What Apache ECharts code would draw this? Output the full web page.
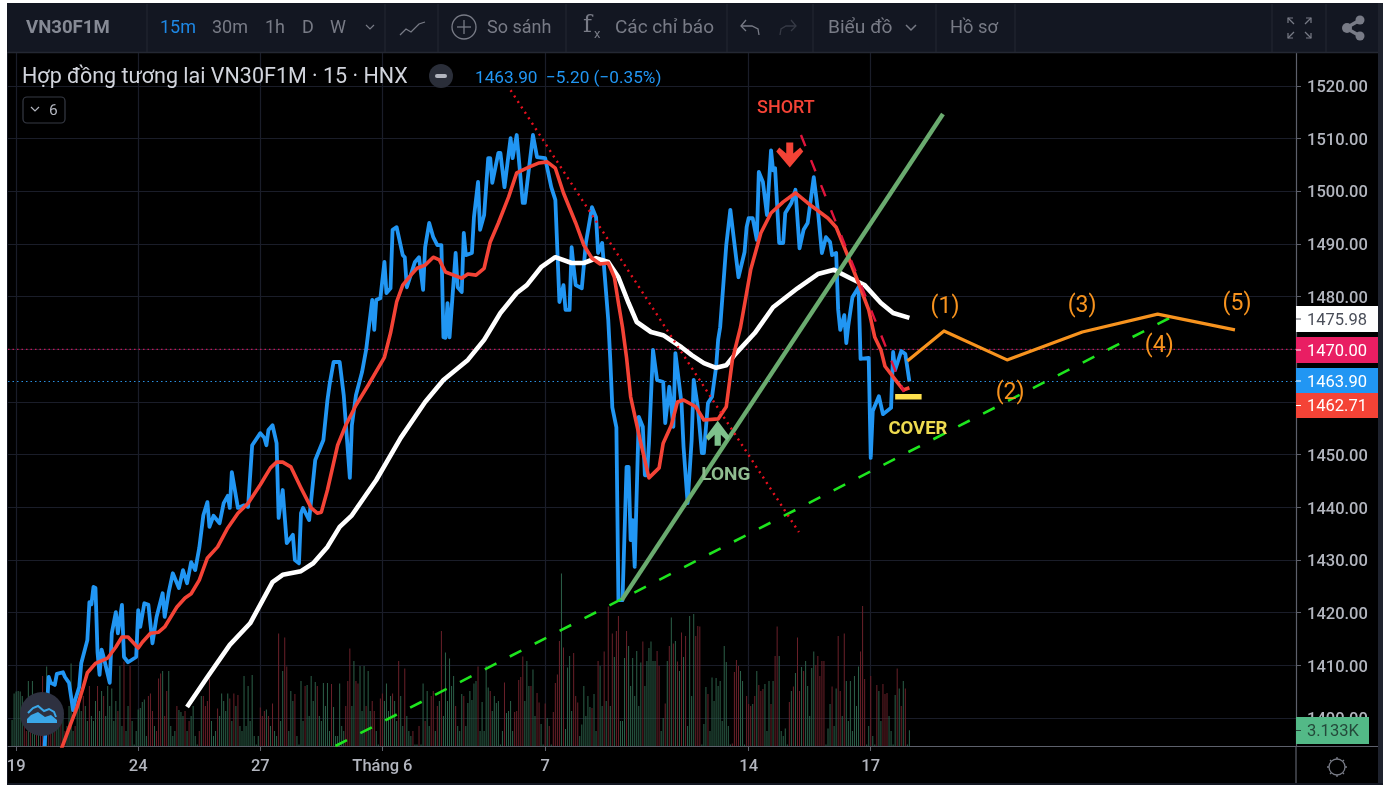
<!DOCTYPE html>
<html><head><meta charset="utf-8">
<style>html,body{margin:0;padding:0;background:#fff}#c{width:1391px;height:788px}</style>
<script src="https://cdn.jsdelivr.net/npm/echarts@6/dist/echarts.min.js"></script>
</head><body><div id="c"></div>
<script>
// Bars are numbered from the "19" session; one session = 20 bars.
const tickBars = [0, 60, 120, 180, 260, 360, 420];
const tickLabels = ['19', '24', '27', 'Tháng 6', '7', '14', '17'];
const priceTicks = [1400,1410,1420,1430,1440,1450,1460,1470,1480,1490,1500,1510,1520];

const closeBars = [14,16,17,19,20,23,24,26,28,29,31,32,35,36,37,38,39,40,41,42,43,46,47,49,50,52,53,55,59,60,61,63,65,67,69,72,73,75,77,80,82,84,86,88,90,92,94,95,97,100,102,104,105,106,109,112,114,116,120,122,123,124,126,128,129,131,132,133,136,137,139,140,141,144,147,151,153,154,156,159,161,164,165,167,170,172,175,176,177,179,181,182,184,185,187,190,191,192,196,198,200,201,203,205,207,209,210,211,212,213,216,217,219,220,221,224,225,227,228,230,232,233,234,237,238,240,243,244,246,249,250,254,256,260,263,265,267,269,270,272,273,274,275,278,280,283,285,286,288,291,292,293,295,296,298,300,301,302,303,304,306,308,309,310,311,313,315,318,319,321,323,324,327,328,330,332,333,335,337,338,340,342,344,345,346,349,351,355,358,359,360,362,364,365,367,369,371,372,373,375,377,378,381,383,385,387,389,392,394,396,398,400,401,403,404,405,407,408,409,411,414,415,419,420,421,424,426,430,431,432,435,437,439];
const closeValues = [1394.7,1407.8,1406.7,1406.3,1408.4,1408.7,1407.8,1406.7,1401.5,1403.4,1405.9,1410.4,1414.8,1422,1421.6,1424.9,1424.7,1412.5,1408.2,1413,1411.6,1406.7,1416.1,1420.1,1416.1,1421.5,1411.6,1410.6,1411.6,1420.5,1417.3,1421.8,1421.5,1414.2,1419.2,1423.7,1419.2,1423.9,1427.5,1424.7,1428.1,1425.6,1429.6,1428.1,1432.3,1438.5,1441,1436.3,1438.4,1437,1440.8,1442.2,1439.9,1446.7,1439.9,1440.4,1440.1,1451.8,1454.1,1453.2,1451.8,1454.7,1455.6,1452.2,1438,1443.3,1438.2,1433.2,1434.8,1430,1429.4,1438.9,1439.9,1437.6,1449,1452.8,1460.4,1463.2,1467.6,1467.6,1461.3,1445.6,1455.6,1461.3,1465.7,1469.9,1479.4,1473.7,1479.4,1479.7,1486.6,1480.7,1481.6,1492.7,1493.2,1487.9,1487.5,1481.8,1486.6,1487.5,1481.3,1489.4,1494,1491.3,1489.8,1489.8,1472.3,1472.2,1478.8,1472.3,1488.3,1481.8,1480.9,1492.1,1487.9,1488.3,1495.1,1501.8,1492.7,1495.5,1506.3,1506.3,1501.6,1507.3,1507.3,1500.8,1510.1,1506.3,1510.7,1497.8,1497.8,1510.7,1506.5,1506.3,1500.8,1498.4,1479,1482.2,1477.5,1477.5,1489.4,1485.6,1482.2,1481.6,1490.2,1497,1495.1,1488.3,1490.2,1475.6,1468,1459,1455.2,1422.4,1422.4,1447.7,1447.7,1433.8,1437.6,1428.7,1457.2,1455.3,1446.1,1446.1,1452.2,1469.9,1464.2,1463.8,1456,1462.9,1455.3,1469.3,1459.8,1451.5,1440.8,1452.8,1464.2,1459.1,1450.3,1450.3,1459.8,1461,1466.6,1471.8,1474.2,1489.8,1496.5,1483.7,1488.5,1493.2,1494.9,1494.9,1490.8,1503.7,1501.8,1495.5,1507.8,1504,1504.4,1490.2,1490.2,1495.9,1497.8,1500.3,1489.2,1492.7,1494,1502.7,1496.5,1488.3,1491.3,1490.4,1487.9,1488.3,1477.5,1473.7,1476.5,1471.2,1474.6,1479.9,1481.8,1468.2,1468.4,1449.4,1458.3,1461.1,1457.7,1458.9,1469.5,1466.1,1469.7,1469.1,1463.9];

const fastBars = [22,27,30,33,35,39,45,49,52,55,60,62,66,70,73,79,83,86,90,94,99,104,109,114,120,125,128,131,135,140,145,148,150,153,158,162,167,173,181,184,187,190,194,197,201,205,208,211,215,219,222,226,230,233,237,242,246,252,257,261,265,269,275,279,283,287,291,294,296,298,300,302,307,311,316,318,322,325,328,334,338,345,349,352,356,361,366,371,377,383,389,399,403,409,414,419,422,425,427,433,436,439];
const fastValues = [1393.9,1399.1,1402.1,1405.9,1408.6,1410.4,1411.4,1413.5,1415.4,1415.4,1413.3,1414.4,1416.1,1416.3,1417.3,1421.1,1422.8,1423.6,1426.2,1430.4,1432.5,1436.1,1438.9,1440.8,1444.3,1447.5,1448.6,1448.6,1447.7,1443.7,1439.9,1438.9,1439.1,1443.3,1451.8,1455.6,1459.4,1463.2,1468.5,1473.1,1479,1482.2,1484.1,1485.4,1486,1487.5,1487,1484.7,1484.1,1483.5,1484.3,1484.1,1485.4,1490.4,1494,1498.9,1503.5,1504.6,1505.4,1505.6,1504.4,1499.7,1494,1489.8,1487.3,1486.2,1486.4,1483.7,1478.8,1474.2,1468.4,1461,1452.2,1445.6,1447.5,1452.2,1455.6,1460,1460.4,1459.1,1456.6,1456.8,1459.1,1468,1474.2,1485.1,1492.1,1495.9,1498,1499.7,1497.8,1494.9,1493.2,1487.5,1482.6,1477.5,1472.3,1469.9,1466.8,1463.8,1462.3,1462.71];

const slowBars = [84,94,105,115,126,131,140,146,153,159,165,177,189,201,210,222,230,238,246,251,258,265,273,279,285,291,296,301,305,312,318,327,332,338,344,349,353,363,372,384,394,402,410,417,425,431,439];
const slowValues = [1402.1,1407.8,1413.9,1418,1425.8,1427.2,1427.9,1429.4,1432.5,1436.3,1438.5,1445.2,1453.2,1460,1464.2,1468,1471.8,1476.9,1480.7,1482.2,1485.6,1487.5,1486.4,1486.4,1487.3,1486.6,1483.7,1478.8,1475.2,1473.3,1472.7,1470.4,1468.9,1467.4,1466.5,1467,1468.9,1473.1,1478,1481.6,1484.3,1485.1,1483.5,1482.2,1478.8,1476.9,1475.98];

// Volume in thousands, one per bar from bar -2; negative = down bar (red).
const volumes = [
5.2,10.5,10.9,11,10.9,10,-8.5,-3,13,-4,13,3,-5,4.5,-8,-14,5,15.9,-6,-8,
7,-4,9,5,-8,6,-3,4,8,16.5,3,-4,9,13,7,-10,8,5,-12,6,
5,9,-12,7,11,-10,6,12,8,11.5,5,9,-7,16,4,-16.9,3,8,-16,5,
0.3,3,7.3,7.6,8.8,9.3,2,-10,-10.5,-7,4,-3,-13.5,-14.5,15,-6,-11,15,4,2,
3,-8,7.2,6.8,6,-7,3,-5,6,8,2,0.3,-3,10,-10,-8,-9,-13.5,5,2,
3,-7.5,6,10.5,9,7,10.5,-9.5,5,-10.5,8,-10.2,4,3,14,4,12,5,14.2,2,
0.3,2,-7.7,-6,-7,7.3,-6,4,-8.5,3,2,-22.5,5,15,-21.7,-15.9,3,11,9,-10.4,
2,0.3,13,5,-12,12.2,6,14,9,12.8,-12,6,5,12.6,8,12.6,3,-12.4,7.8,2,
2,12.5,4,3,-8,-13,-19.5,8,17,-13,-12.5,16,7,16,-8,15,7,-9,-7,3,
0.3,-9.5,-10.5,9,12.5,7,10,-10.5,9,5,-17,10,4,-15.5,6,3,2,-3,0.3,0.3,
-4,0.3,12.5,-5,11,4,-10,-11,3,-8,9,-23,6,18.7,9,17.5,12,14,-8,4,
3,10.4,-10,4,8.6,11,9.2,12.5,13,-15.9,3,8.8,3,16,11.7,-11,7,10,8.6,9,
0.3,3,-12.7,6.6,7,9,3,-6.8,-7,-13.2,-13.8,-17.9,9,17,12,-12,15.3,6,-10.6,-8.7,
4.4,0.3,-8.5,5.6,-4,0.3,-6.8,-12.6,-14.3,-21,34.5,-19.7,3.4,15.7,18,7,-18.6,-10,-8.7,2,
4.3,12,6,10,7.8,-7.6,10.4,3,-17,16,8,-18.9,9,-27.9,8,-22.5,17.8,-23,-26,5,
5,17.6,-23,20,12,17.6,10,19,8,16.7,-20.9,12,17,19.6,20.9,17,17,-19,-16,3,
5.6,-8.5,17,-20,25.7,-20.5,21,-16.9,15,-22.7,17.8,-22,4,26,10,26.4,-22,-24,-23.9,0.3,
4.4,11.8,-10.4,3,13.7,9,13.6,12,13,5,20,16.8,4,0.3,-0.5,-14.8,-17.2,-16,15,13,
0.3,-10,-8.4,-8,8.4,-10,15,-12.2,-11,-11.4,12.4,3,13,-8.4,13,-18,-23.9,18,3,2,
3.5,0.3,-8.8,11,-11.9,14.6,-21.7,-11,15.8,-15,17,12,6,15.6,18.9,-16.2,-18,-14,-17,-17,
0.3,3.5,8.4,-11.9,4,11.5,-22,-11,6,-22.5,13,5,13,3,14,8,15.9,-18.9,-28,-13.4,
0.3,4,-14,2,0.3,-12.2,11,5,-12.4,-10.4,-10.6,6,3,0.3,10.2,-15.5,11.5,-8,13,-11.5,0.3,3.133
];
const firstVolumeBar = -2;

// Drawn studies: [bar, price]
const longTrend = [[297.6,1422.4],[455.5,1514.7]];
const supportTrend = [[156.9,1394.7],[568.6,1476.3]];
const fallingTrend = [[243,1519.2],[384.7,1435.3]];
const shortTrend = [[385.7,1510.7],[436.3,1461.9]];
const forecastBars = [438,456,487,524,561,599];
const forecastValues = [1467.8,1473.5,1468,1473.3,1476.7,1473.7];
const coverLevel = [[432,1461],[445,1461]];

const waveLabels = ['(1)','(2)','(3)','(4)','(5)'];
const waveBars = [456.5,488.5,523.9,561.8,600];
const wavePrices = [1478.0,1461.7,1478.2,1470.6,1478.6];
const alertPrice = 1470, lastPrice = 1463.9;

const zipXY = (xs, ys) => xs.map((x, i) => [x, ys[i]]);
const FONT = 'Roboto, "Noto Sans", sans-serif';
const GRID = '#1a1d29';

// ---------- chrome ----------
const g = [];
const rect = (x,y,w,h,fill,z=-1,extra={}) => g.push({type:'rect',z,shape:{x,y,width:w,height:h,r:extra.r||0},style:{fill,stroke:extra.stroke,lineWidth:extra.lw||0}});
const txt = (x,y,s,fill,size,opt={}) => g.push({type:'text',z:opt.z||60,x,y,style:{text:s,fill,font:`${opt.w||'normal'} ${size}px ${opt.f||FONT}`,textAlign:opt.a||'left',textVerticalAlign:'middle'}});
const line = (pts,stroke,lw=1.5,z=60) => g.push({type:'polyline',z,shape:{points:pts},style:{stroke,lineWidth:lw,fill:'none'}});
const circle = (cx,cy,r,fill,stroke,lw,z=60) => g.push({type:'circle',z,shape:{cx,cy,r},style:{fill:fill||'none',stroke,lineWidth:lw||0}});

rect(7,3,1376,782,'#131722',-3);
rect(8,53,1370,730,'#000000',-2);
// toolbar
[147,385,438,566,727,813,936,1015,1272,1326].forEach(x=>line([[x,4],[x,52]],'#242833',1));
line([[7,52.5],[1378,52.5]],'#242833',1.5);
const TB='#787b86';
txt(26,28,'VN30F1M','#868a95',18.6,{w:'bold'});
txt(160,28,'15m','#1e88e5',18);
txt(212,28,'30m',TB,18);
txt(265,28,'1h',TB,18);
txt(302,28,'D',TB,18);
txt(330,28,'W',TB,18);
line([[366,25],[370,29],[374,25]],TB,1.2);
line([[400,35],[406,29],[411,32],[419,24],[425,22]],TB,1.3);
circle(464,27,12,null,TB,1.3);
line([[464,20],[464,34]],TB,1.3); line([[457,27],[471,27]],TB,1.3);
txt(487,28,'So sánh',TB,18);
txt(583,26,'f',TB,24,{f:'"DejaVu Serif", serif'});
txt(594,35,'x',TB,13);
txt(615,28,'Các chỉ báo',TB,19);
line([[746,20],[741,26],[746,31]],TB,1.3);
line([[741,26],[752,26],[758,29],[759,35]],TB,1.3);
line([[791,20],[796,26],[791,31]],'#363a45',1.3);
line([[796,26],[786,26],[781,29],[780,35]],'#363a45',1.3);
txt(828,28,'Biểu đồ',TB,19.2);
line([[906,25],[911,30],[916,25]],TB,1.5);
txt(950,28,'Hồ sơ',TB,18.3);
[[1288,18,1,1],[1311,18,-1,1],[1288,38,1,-1],[1311,38,-1,-1]].forEach(([x,y,a,b])=>{
  line([[x,y+5*b],[x,y],[x+5*a,y]],TB,1.2); line([[x,y],[x+6*a,y+6*b]],TB,1.2);
});
line([[1360,20],[1346,28],[1360,36]],TB,3.5);
circle(1360,20,4.5,TB);circle(1347,28,5,TB);circle(1360,36,4.5,TB);
// legend
txt(22,78,'Hợp đồng tương lai VN30F1M · 15 · HNX','#d1d4dc',21.5);
circle(441,76,12,'#2a2e39');
g.push({type:'rect',z:60,shape:{x:435,y:74,width:12,height:4,r:2},style:{fill:'#b2b5be'}});
txt(475,79,'1463.90  −5.20 (−0.35%)','#2196f3',17.2);
rect(23,97,42,26,'#000',59,{r:4,stroke:'#363a45',lw:1.2});
line([[31,107],[35,111],[39,107]],'#b2b5be',1.2);
txt(49,111,'6','#b2b5be',15.5);
// cloud badge
circle(42,714,22,'#2e3140');
g.push({type:'polygon',z:61,shape:{points:[[27,719],[31,715],[38,712],[45,717],[51,715],[57,720],[57,723],[27,723]]},style:{fill:'#3aa7e8'}});
line([[28,713],[33,708],[38,706],[44,711],[49,709],[54,712],[56,717]],'#3aa7e8',2,61);
// right-hand tags
const tag=(y,h,w,fill,color,s)=>{rect(1296,y,w,h,fill,55);
  line([[1296,y+h/2],[1301,y+h/2]],color,1,56);
  txt(1307,y+h/2+1.5,s,color,16.5,{z:56});};
tag(306,26,82,'#ffffff','#4a4e59','1475.98');
tag(337,26,82,'#e91e63','#ffffff','1470.00');
tag(368,26,82,'#2196f3','#ffffff','1463.90');
tag(393,25,82,'#f44336','#ffffff','1462.71');
tag(717,27,73,'#53b987','#24493a','3.133K');
// bottom-right pane
line([[1296,746],[1296,783]],'#5d606b',1.2,5);
line([[1296,746.5],[1378,746.5]],'#5d606b',1.2,5);
circle(1337,767,8,null,'#787b86',1.3);
[[0,-10],[7,-7],[10,0],[7,7],[0,10],[-7,7],[-10,0],[-7,-7]].forEach(([a,b])=>line([[1337+a*.8,767+b*.8],[1337+a,767+b]],'#787b86',1.3));
// outer page frame above everything
rect(0,0,7,788,'#ffffff',90);
rect(1383,0,8,788,'#ffffff',90);
rect(1378,3,5,782,'#1e222d',89);
rect(0,783,1391,2,'#131722',89);

const note = (bar,price,text,color,size,weight) => ({value:[bar,price],label:{show:true,position:'inside',formatter:text,color,fontSize:size,fontWeight:weight||'normal',fontFamily:FONT}});
const studyLine = (data,color,width,type,z,cap) => ({type:'line',data,xAxisIndex:0,yAxisIndex:0,showSymbol:false,silent:true,z,lineStyle:{color,width,type:type||'solid',cap:cap||'butt',join:'round'},animation:false});

const option = {
  animation:false,
  backgroundColor:'#ffffff',
  graphic:{elements:g},
  grid:{left:8,right:95,top:53,bottom:42,containLabel:false},
  xAxis:{type:'value',min:-4,max:629,position:'bottom',
    axisLine:{onZero:false,lineStyle:{color:'#5d606b',width:1.2}},
    axisTick:{show:true,length:5,customValues:tickBars,lineStyle:{color:'#5d606b'}},
    axisLabel:{show:true,margin:12,color:'#b2b5be',fontSize:16.5,fontWeight:'500',fontFamily:FONT,customValues:tickBars,hideOverlap:false,showMinLabel:true,
      formatter:v=>tickLabels[tickBars.indexOf(v)]||''},
    splitLine:{show:true,lineStyle:{color:GRID,width:1.2}}},
  yAxis:[
   {type:'value',position:'right',min:1394.7,max:1526.27,
    axisLine:{show:true,onZero:false,lineStyle:{color:'#5d606b',width:1.2}},
    axisTick:{show:true,length:5,customValues:priceTicks,lineStyle:{color:'#5d606b'}},
    axisLabel:{show:true,margin:11,verticalAlign:'top',lineHeight:4,color:'#b2b5be',fontSize:16.5,fontWeight:'500',fontFamily:FONT,customValues:priceTicks,formatter:v=>v.toFixed(2)},
    splitLine:{show:true,lineStyle:{color:GRID,width:1.2}}},
   {type:'value',show:false,min:0,max:138.6,splitLine:{show:false}}
  ],
  series:[
   {type:'bar',xAxisIndex:0,yAxisIndex:1,barWidth:1,z:1,silent:true,
    data:volumes.map((v,i)=>({value:[firstVolumeBar+i,Math.abs(v)],itemStyle:{color:v<0?'#6a2029':'#2c6049'}}))},
   studyLine([[-4,alertPrice],[629,alertPrice]],'#c2185b',1.2,[1.5,3],2),
   studyLine([[-4,lastPrice],[629,lastPrice]],'#2a8fe0',1.2,[1.5,3],2),
   studyLine(zipXY(closeBars,closeValues),'#2196f3',3.8,'solid',3),
   studyLine(zipXY(slowBars,slowValues),'#ffffff',4.6,'solid',4),
   studyLine(zipXY(fastBars,fastValues),'#f44336',3.6,'solid',5),
   studyLine(longTrend,'#6aab6f',4.4,'solid',6),
   studyLine(supportTrend,'#1ee51e',2.6,[13,15],6),
   studyLine(fallingTrend,'#e8101e',2.4,[2,4.5],6),
   studyLine(shortTrend,'#e0143c',2.4,[12,15],6),
   studyLine(zipXY(forecastBars,forecastValues),'#f7931e',3.2,'solid',7),
   studyLine(coverLevel,'#ffe14d',5.5,'solid',7),
   {type:'scatter',symbol:'path://M10 0 H17 V11 L24 5 L27 9 L13.5 25 L0 9 L3 5 L10 11 Z',symbolSize:[27,25],z:8,silent:true,
    itemStyle:{opacity:1},
    data:[{value:[380.2,1506.9],itemStyle:{color:'#f44336',opacity:1}},{value:[344.8,1454.1],symbolRotate:180,symbolSize:[24,25],itemStyle:{color:'#7ec18c',opacity:1}}]},
   {type:'scatter',symbolSize:1,itemStyle:{color:'transparent',opacity:1},z:9,silent:true,
    data:[note(378.3,1515.8,'SHORT','#f44336',18,'500'),note(348.8,1446.1,'LONG','#8fbc8f',19,'bold'),note(443.2,1454.9,'COVER','#eedb4f',18.5,'bold')]
      .concat(waveLabels.map((t,i)=>note(waveBars[i],wavePrices[i],t,'#f7931e',23)))}
  ]
};
echarts.init(document.getElementById('c'),null,{renderer:'canvas'}).setOption(option);
</script></body></html>
